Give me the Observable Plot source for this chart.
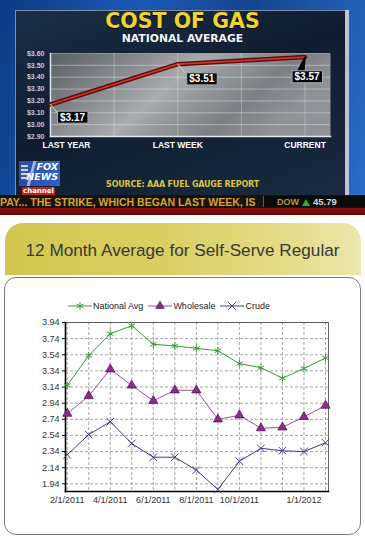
<!DOCTYPE html>
<html><head><meta charset="utf-8">
<script src="https://cdn.jsdelivr.net/npm/d3@7"></script>
<script src="https://cdn.jsdelivr.net/npm/@observablehq/plot@0.6"></script>
<style>
body{margin:0;background:#fff;}
#page{position:relative;width:365px;height:537px;overflow:hidden;font-family:"Liberation Sans",Arial,sans-serif;}
.abs{position:absolute;}
#tv{left:0;top:0;width:365px;height:195px;background:linear-gradient(105deg,#0c3b86 0%,#1d5ab4 35%,#134590 60%,#2a6ccb 100%);}
#panel{left:15px;top:10px;width:330px;height:185px;background:linear-gradient(160deg,#1c2f47 0%,#0f1d2f 45%,#1a2c42 100%);border-top:1px solid #7d8ea2;border-left:1px solid #7d8ea2;}
#panelEdge{left:345px;top:10px;width:4px;height:185px;background:#bcc5cf;}
#gasTitle{left:0;top:9px;width:365px;text-align:center;color:#f2d22e;font:bold 20.5px "DejaVu Sans",sans-serif;text-shadow:0 1px 1px #000;}
#gasSub{left:0;top:32px;width:365px;text-align:center;color:#f2f4f6;font:bold 10.8px "DejaVu Sans",sans-serif;}
#topChart{left:0;top:0;}
#logo{left:19px;top:161px;width:41px;height:25px;background:linear-gradient(90deg,#2c4aa0,#2f63c8);}
#logo .fox{position:absolute;right:2px;top:1px;color:#fff;font:italic bold 9.5px "DejaVu Sans",sans-serif;line-height:10px;text-align:right;}
#logo .side{position:absolute;left:2px;top:4px;width:7px;height:15px;background:repeating-linear-gradient(180deg,#c9d4ee 0 2px,#3a56a8 2px 4px);}
#logo .slash{position:absolute;left:11px;top:0;width:3px;height:25px;background:#9fb4e6;transform:skewX(-15deg);}
#channel{left:22px;top:187px;width:33px;height:8px;background:#c42222;color:#fff;font:bold 7px "DejaVu Sans",sans-serif;line-height:8px;text-align:center;}
#source{left:0;top:180px;width:365px;text-align:center;color:#dcc23c;font:bold 8px "DejaVu Sans",sans-serif;letter-spacing:-0.2px;}
#ticker{left:0;top:195px;width:365px;height:13px;background:#17120e;}
#tickText{left:0;top:196px;color:#d9a232;font:bold 10.5px "Liberation Sans",Arial,sans-serif;line-height:12px;white-space:nowrap;}
#dowBox{left:263px;top:196px;width:102px;height:11px;background:#0b0b0b;border-left:1px solid #5a5a5a;}
#dow{left:277px;top:196px;color:#b99440;font:bold 9px "Liberation Sans",Arial,sans-serif;line-height:12px;white-space:nowrap;}
#dowTri{left:302px;top:199px;width:0;height:0;border-left:4px solid transparent;border-right:4px solid transparent;border-bottom:7px solid #2fae3a;}
#dowVal{left:313px;top:196px;color:#d6d6d6;font:bold 9.5px "Liberation Sans",Arial,sans-serif;line-height:12px;}
#redBand{left:0;top:208px;width:365px;height:7px;background:linear-gradient(180deg,#8c0f0f,#5e0808);}
#tab{left:5px;top:223px;width:356px;height:52px;border-radius:18px 18px 0 0;background:linear-gradient(90deg,#d1c74e 0%,#d9d062 45%,#e3dc88 80%,#ebe7ae 100%);}
#tabTitle{left:0;top:240px;width:365px;text-align:center;color:#383838;font:17.2px "Liberation Sans",Arial,sans-serif;}
#box{left:4px;top:277px;width:355px;height:256px;border:1.5px solid #7a7a7a;border-radius:12px;background:#fff;}
#legend{left:68px;top:301px;display:flex;align-items:center;font:9px "Liberation Sans",Arial,sans-serif;color:#222;white-space:nowrap;}
#legend .item{display:flex;align-items:center;margin-right:5px;}
#legend svg{margin-right:1px;}
#bottomChart{left:0;top:290px;}
</style></head><body>
<div id="page">
  <div id="tv" class="abs"></div>
  <div id="panel" class="abs"></div>
  <div id="panelEdge" class="abs"></div>
  <div id="gasTitle" class="abs">COST OF GAS</div>
  <div id="gasSub" class="abs">NATIONAL AVERAGE</div>
  <div id="topChart" class="abs"></div>
  <div id="logo" class="abs"><div class="side"></div><div class="slash"></div><div class="fox">FOX<br>NEWS</div></div>
  <div id="channel" class="abs">channel</div>
  <div id="source" class="abs">SOURCE: AAA FUEL GAUGE REPORT</div>
  <div id="ticker" class="abs"></div>
  <div id="tickText" class="abs">PAY... THE STRIKE, WHICH BEGAN LAST WEEK, IS</div>
  <div id="dowBox" class="abs"></div>
  <div id="dow" class="abs">DOW</div>
  <div id="dowTri" class="abs"></div>
  <div id="dowVal" class="abs">45.79</div>
  <div id="redBand" class="abs"></div>
  <div id="tab" class="abs"></div>
  <div id="tabTitle" class="abs">12 Month Average for Self-Serve Regular</div>
  <div id="box" class="abs"></div>
  <div id="legend" class="abs"></div>
  <div id="bottomChart" class="abs"></div>
</div>
<script>
// ---------- Top chart data ----------
const periods = ["LAST YEAR", "LAST WEEK", "CURRENT"];
const prices = [3.17, 3.51, 3.57];
const priceTicks = [2.90, 3.00, 3.10, 3.20, 3.30, 3.40, 3.50, 3.60];
const periodGrid = [0, 0.5, 1, 1.5, 2];

// ---------- Bottom chart data ----------
const months = ["2/1/2011","3/1/2011","4/1/2011","5/1/2011","6/1/2011","7/1/2011","8/1/2011","9/1/2011","10/1/2011","11/1/2011","12/1/2011","1/1/2012","2/1/2012"];
const monthLabels = ["2/1/2011","4/1/2011","6/1/2011","8/1/2011","10/1/2011","1/1/2012"];
const seriesNames = ["National Avg", "Wholesale", "Crude"];
const nationalAvg = [3.16, 3.53, 3.80, 3.90, 3.67, 3.65, 3.62, 3.59, 3.43, 3.38, 3.25, 3.37, 3.50];
const wholesale   = [2.81, 3.03, 3.36, 3.16, 2.97, 3.10, 3.10, 2.74, 2.79, 2.63, 2.64, 2.77, 2.91];
const crude       = [2.30, 2.55, 2.71, 2.44, 2.27, 2.27, 2.11, 1.87, 2.22, 2.38, 2.35, 2.34, 2.45];
const valueTicks = [1.94, 2.14, 2.34, 2.54, 2.74, 2.94, 3.14, 3.34, 3.54, 3.74, 3.94];

// ================= TOP CHART =================
const gas = periods.map((p, i) => ({period: p, i, price: prices[i], label: "$" + prices[i].toFixed(2)}));
const lineShape = {draw(c, l) { c.moveTo(0, 0); c.lineTo(0, -l); }};
const labelOffsets = [{dx: 22, dy: 13}, {dx: 24, dy: 15}, {dx: 2, dy: 20}];
const axisFont = "Liberation Sans, Arial, sans-serif";

const topSvg = Plot.plot({
  width: 365, height: 195,
  marginLeft: 50, marginRight: 35, marginTop: 53, marginBottom: 59,
  style: {background: "transparent", overflow: "visible"},
  x: {domain: [0, 2.2], axis: null},
  y: {domain: [2.9, 3.6], axis: null},
  marks: [
    Plot.frame({fill: "url(#gasGrad)"}),
    Plot.ruleY(priceTicks, {stroke: "#e4e8ec", strokeOpacity: 0.45}),
    Plot.ruleX(periodGrid, {stroke: "#e4e8ec", strokeOpacity: 0.4}),
    Plot.frame({anchor: "left", stroke: "#dfe5ea", strokeWidth: 1.5}),
    Plot.frame({anchor: "bottom", stroke: "#dfe5ea", strokeWidth: 1.5}),
    Plot.axisY({ticks: priceTicks, tickFormat: d => "$" + d.toFixed(2), tickSize: 0, tickPadding: 6,
      fill: "#c2c9d8", fontWeight: "bold", fontSize: 7, fontFamily: axisFont, label: null}),
    Plot.text(gas.slice(0, 1), {x: "i", text: "period", frameAnchor: "bottom", dy: 11, dx: 16,
      fill: "#fff", fontWeight: "bold", fontSize: 8.5, fontFamily: axisFont}),
    Plot.text(gas.slice(1), {x: "i", text: "period", frameAnchor: "bottom", dy: 11,
      fill: "#fff", fontWeight: "bold", fontSize: 8.5, fontFamily: axisFont}),
    Plot.line(gas, {x: "i", y: "price", stroke: "#5e0c0c", strokeWidth: 4.5}),
    Plot.line(gas, {x: "i", y: "price", stroke: "#c9352c", strokeWidth: 1.8}),
    Plot.vector(gas.slice(0, 2), {x: "i", y: "price", length: 11, rotate: 140, anchor: "start",
      shape: lineShape, stroke: "#b8d8a6", strokeWidth: 1}),
    Plot.vector(gas.slice(2), {x: "i", y: "price", length: 15, rotate: 16, anchor: "end",
      shape: "spike", r: 3, fill: "#000", stroke: "#000"}),
    ...gas.map((g, k) => Plot.text([g], {x: "i", y: "price", text: "label",
      dx: labelOffsets[k].dx, dy: labelOffsets[k].dy, fill: "#fff", fontWeight: "bold",
      fontSize: 10, fontFamily: axisFont, className: "pricelab"}))
  ]
});
document.getElementById("topChart").appendChild(topSvg);
{
  const defs = d3.select(topSvg).insert("defs", ":first-child");
  const lg = defs.append("linearGradient").attr("id", "gasGrad")
    .attr("x1", 0).attr("y1", 0).attr("x2", 1).attr("y2", 0.35);
  [[0, "#5a5f64"], [0.3, "#878b90"], [0.5, "#a9abad"], [0.62, "#95989b"], [0.8, "#7c8085"], [1, "#8f9397"]]
    .forEach(([o, c]) => lg.append("stop").attr("offset", o).attr("stop-color", c));
}
topSvg.querySelectorAll(".pricelab text").forEach(t => {
  const b = t.getBBox();
  const r = document.createElementNS("http://www.w3.org/2000/svg", "rect");
  r.setAttribute("x", b.x - 2.5); r.setAttribute("y", b.y - 0.5);
  r.setAttribute("width", b.width + 5); r.setAttribute("height", b.height + 1);
  r.setAttribute("fill", "#070707"); r.setAttribute("stroke", "#a9adb2"); r.setAttribute("stroke-width", 1);
  if (t.getAttribute("transform")) r.setAttribute("transform", t.getAttribute("transform"));
  t.parentNode.insertBefore(r, t);
});

// ================= BOTTOM CHART =================
const colors = {"National Avg": "#3c9b3c", "Wholesale": "#a84aa8", "Crude": "#3d3d8c"};
const series = [nationalAvg, wholesale, crude];
const rows = months.flatMap((m, i) => seriesNames.map((s, k) => ({month: m, i, series: s, value: series[k][i]})));
const labelIdx = months.map((m, i) => i).filter(i => monthLabels.includes(months[i]));

const bottomSvg = Plot.plot({
  width: 365, height: 230,
  marginLeft: 65, marginRight: 37, marginTop: 32, marginBottom: 29,
  style: {background: "transparent", fontFamily: axisFont},
  x: {domain: [-0.08, 12.14], axis: null},
  y: {domain: [1.845, 3.94], axis: null},
  color: {domain: seriesNames, range: seriesNames.map(s => colors[s])},
  marks: [
    Plot.ruleY(valueTicks, {stroke: "#8e8e8e", strokeDasharray: "3,2", strokeWidth: 0.8}),
    Plot.ruleX(months.map((m, i) => i), {stroke: "#8e8e8e", strokeDasharray: "3,2", strokeWidth: 0.8}),
    Plot.frame({stroke: "#444", strokeWidth: 0.8}),
    Plot.frame({anchor: "left", stroke: "#000", strokeWidth: 1.6}),
    Plot.frame({anchor: "bottom", stroke: "#000", strokeWidth: 1.6}),
    Plot.axisY({ticks: valueTicks, tickFormat: d => d.toFixed(2), tickSize: 3, tickPadding: 3,
      fontSize: 9, fill: "#333", stroke: "#000", label: null}),
    Plot.axisX({ticks: labelIdx, tickFormat: i => months[i], tickSize: 0, tickPadding: 5,
      fontSize: 9, fill: "#333", label: null}),
    Plot.line(rows, {x: "i", y: "value", z: "series", stroke: "series", strokeWidth: 1}),
    Plot.dot(rows.filter(d => d.series === "National Avg"), {x: "i", y: "value", symbol: "asterisk", r: 3.5, stroke: colors["National Avg"], strokeWidth: 1}),
    Plot.dot(rows.filter(d => d.series === "Wholesale"), {x: "i", y: "value", symbol: "triangle", r: 3.4, fill: "#8d2a8d", stroke: "#4a104a", strokeWidth: 0.7}),
    Plot.dot(rows.filter(d => d.series === "Crude"), {x: "i", y: "value", symbol: "times", r: 3.5, stroke: colors["Crude"], strokeWidth: 1})
  ]
});
document.getElementById("bottomChart").appendChild(bottomSvg);

{
  const symbols = {"National Avg": d3.symbolAsterisk, "Wholesale": d3.symbolTriangle, "Crude": d3.symbolTimes};
  const leg = d3.select("#legend");
  seriesNames.forEach(s => {
    const it = leg.append("div").attr("class", "item");
    const sv = it.append("svg").attr("width", 24).attr("height", 10);
    sv.append("line").attr("x1", 0).attr("x2", 24).attr("y1", 5).attr("y2", 5).attr("stroke", colors[s]).attr("stroke-width", 1);
    const p = sv.append("path").attr("transform", "translate(12,5)")
      .attr("d", d3.symbol(symbols[s], s === "Wholesale" ? 30 : 40)());
    if (s === "Wholesale") p.attr("fill", "#8d2a8d").attr("stroke", "#4a104a").attr("stroke-width", 0.7);
    else p.attr("fill", "none").attr("stroke", colors[s]).attr("stroke-width", 1);
    it.append("span").text(s);
  });
}
</script>
</body></html>
